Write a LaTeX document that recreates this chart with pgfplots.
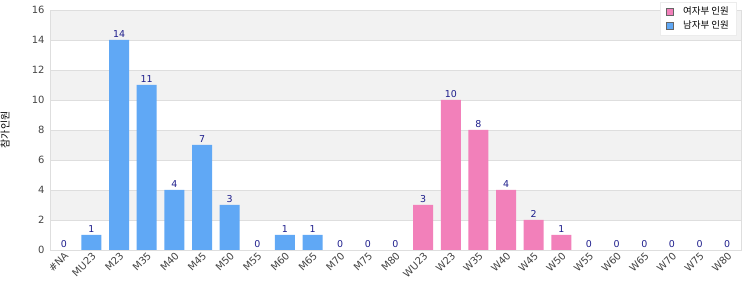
\documentclass[border=0pt]{standalone}
\usepackage{fontspec}
\setmainfont{DejaVu Sans}
\newfontfamily\kr{Noto Sans CJK KR}
\usepackage{pgfplots}
\pgfplotsset{compat=1.18}
\definecolor{mblue}{RGB}{96,168,245}
\definecolor{wpink}{RGB}{242,128,186}
\definecolor{lbl}{RGB}{30,30,140}
\definecolor{band}{RGB}{242,242,242}
\definecolor{gridc}{RGB}{222,222,222}
\definecolor{tickc}{RGB}{68,68,68}
\begin{document}
\begin{tikzpicture}
\begin{axis}[
  at={(0,0)}, anchor=south west, scale only axis,
  width=691bp, height=240bp,
  set layers,
  xmin=-0.5, xmax=24.5, ymin=0, ymax=16,
  ytick={0,2,...,16},
  xtick={0,...,24},
  xticklabels={\#NA,MU23,M23,M35,M40,M45,M50,M55,M60,M65,M70,M75,M80,WU23,W23,W35,W40,W45,W50,W55,W60,W65,W70,W75,W80},
  x tick label style={rotate=45, anchor=north east, font=\fontsize{10}{11}\selectfont, text=tickc, inner sep=1bp},
  y tick label style={font=\fontsize{10}{11}\selectfont, text=tickc, xshift=-2bp},
  /pgf/number format/assume math mode=true,
  ymajorgrids, grid style={gridc, line width=0.6bp},
  axis line style={gridc, line width=0.8bp},
  major tick length=0pt,
  ybar, bar width=20bp, bar shift=0pt,
  nodes near coords,
  nodes near coords style={font=\fontsize{9.5}{10}\selectfont, text=lbl, inner sep=2.5bp},
  ylabel={\kr 참가인원},
  ylabel style={at={(axis description cs:-0.065,0.5)}, anchor=center, font=\fontsize{10}{11}\selectfont},
  legend style={at={(axis description cs:0.9928,1.0333)}, anchor=north east,
    draw=gray!15, fill=white, font=\kr\fontsize{9.5}{10}\selectfont,
    row sep=1bp, inner xsep=5bp, inner ysep=2.5bp,
    /tikz/every odd column/.append style={column sep=8bp}},
  legend cell align=left,
  legend image code/.code={\draw[#1, draw=gray!80!black, line width=0.6bp] (1bp,-3.5bp) rectangle (8bp,3.5bp);},
]
\pgfplotsextra{%
\begin{pgfonlayer}{axis background}
\fill[band] (axis cs:-0.5,14) rectangle (axis cs:24.5,16);
\fill[band] (axis cs:-0.5,10) rectangle (axis cs:24.5,12);
\fill[band] (axis cs:-0.5,6) rectangle (axis cs:24.5,8);
\fill[band] (axis cs:-0.5,2) rectangle (axis cs:24.5,4);
\end{pgfonlayer}}
\addplot[fill=wpink, draw=none] coordinates {
 (13,3) (14,10) (15,8) (16,4) (17,2) (18,1) (19,0) (20,0) (21,0) (22,0) (23,0) (24,0)};
\addlegendentry{여자부 인원}
\addplot[fill=mblue, draw=none] coordinates {
 (0,0) (1,1) (2,14) (3,11) (4,4) (5,7) (6,3) (7,0) (8,1) (9,1) (10,0) (11,0) (12,0)};
\addlegendentry{남자부 인원}
\end{axis}
\pgfresetboundingbox
\path[use as bounding box] (-50bp,-50bp) rectangle (700bp,250bp);
\end{tikzpicture}
\end{document}
